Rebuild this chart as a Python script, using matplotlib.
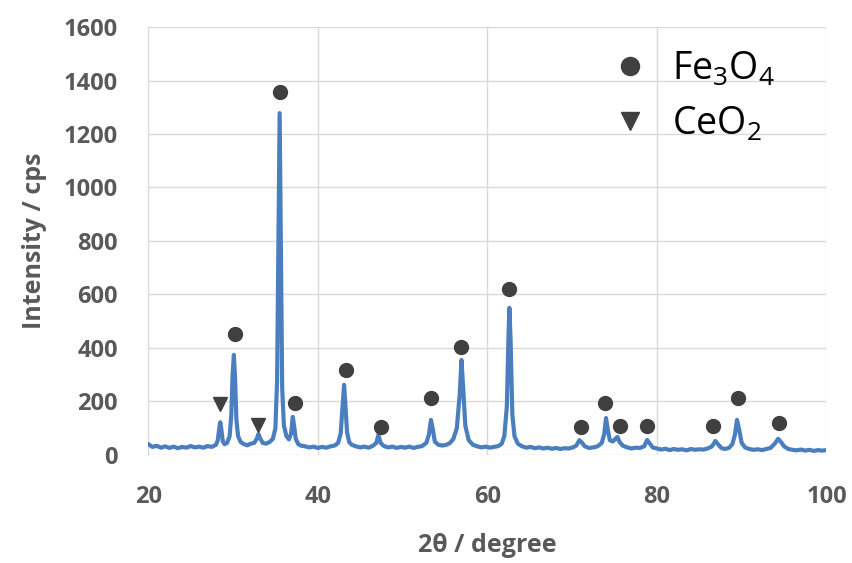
import matplotlib.pyplot as plt
from matplotlib.lines import Line2D

# XRD pattern (2theta, intensity in cps)
two_theta = [
    20.0, 20.5, 21.0, 21.5, 22.0, 22.5, 23.0, 23.5, 24.0, 24.5, 25.0, 25.5, 26.0, 26.5, 27.0, 27.5,
    28.0, 28.2, 28.4, 28.5, 28.6, 28.8, 29.0, 29.3, 29.6, 29.8, 29.95, 30.1, 30.25, 30.4, 30.6, 30.9,
    31.3, 31.7, 32.1, 32.5, 32.8, 33.0, 33.2, 33.5, 33.9, 34.3, 34.7, 35.0, 35.2, 35.35, 35.5, 35.65,
    35.8, 36.0, 36.3, 36.6, 36.85, 37.05, 37.2, 37.4, 37.7, 38.0, 38.5, 39.0, 39.5, 40.0, 40.5, 41.0,
    41.5, 42.0, 42.4, 42.7, 42.9, 43.1, 43.25, 43.45, 43.7, 44.0, 44.5, 45.0, 45.5, 46.0, 46.5, 46.9,
    47.15, 47.4, 47.8, 48.3, 48.8, 49.3, 49.8, 50.3, 50.8, 51.3, 51.8, 52.3, 52.8, 53.1, 53.35, 53.55,
    53.8, 54.2, 54.7, 55.2, 55.6, 56.0, 56.4, 56.75, 56.95, 57.15, 57.4, 57.8, 58.3, 58.8, 59.3, 59.8,
    60.3, 60.8, 61.3, 61.7, 62.0, 62.3, 62.5, 62.6, 62.75, 62.95, 63.2, 63.6, 64.1, 64.6, 65.1, 65.6,
    66.1, 66.6, 67.1, 67.6, 68.1, 68.6, 69.1, 69.6, 70.1, 70.5, 70.85, 71.1, 71.5, 72.0, 72.5, 73.0,
    73.5, 73.8, 74.0, 74.2, 74.45, 74.8, 75.1, 75.35, 75.6, 76.0, 76.5, 77.0, 77.5, 78.0, 78.5, 78.85,
    79.1, 79.5, 80.0, 80.5, 81.0, 81.5, 82.0, 82.5, 83.0, 83.5, 84.0, 84.5, 85.0, 85.5, 86.0, 86.5,
    86.9, 87.2, 87.6, 88.0, 88.5, 88.9, 89.2, 89.45, 89.7, 90.0, 90.4, 90.9, 91.4, 91.9, 92.4, 92.9,
    93.4, 93.9, 94.3, 94.6, 95.0, 95.5, 96.0, 96.5, 97.0, 97.5, 98.0, 98.5, 99.0, 99.5, 100.0,
]
intensity = [
    40, 30, 34, 27, 32, 26, 31, 25, 30, 27, 33, 28, 31, 27, 33, 30,
    38, 55, 105, 122, 100, 50, 40, 45, 70, 150, 300, 374, 280, 130, 70, 48,
    40, 36, 42, 45, 60, 78, 62, 45, 42, 48, 60, 100, 280, 800, 1278, 750,
    250, 110, 70, 58, 80, 142, 110, 60, 40, 35, 32, 28, 31, 26, 30, 27,
    32, 35, 45, 80, 170, 262, 190, 85, 48, 38, 32, 28, 31, 27, 34, 45,
    75, 45, 33, 28, 31, 26, 30, 27, 31, 26, 30, 33, 45, 75, 131, 100,
    50, 38, 35, 38, 45, 60, 100, 230, 355, 250, 110, 55, 38, 32, 28, 31,
    27, 30, 33, 42, 70, 180, 450, 550, 420, 150, 70, 42, 32, 27, 30, 25,
    28, 24, 27, 23, 26, 22, 25, 24, 28, 35, 55, 48, 32, 26, 28, 32,
    45, 80, 138, 95, 55, 50, 60, 67, 48, 34, 28, 24, 27, 26, 32, 56,
    45, 28, 24, 20, 23, 18, 22, 19, 21, 17, 22, 19, 21, 20, 24, 32,
    52, 40, 26, 22, 26, 40, 75, 131, 95, 45, 28, 22, 19, 21, 18, 22,
    26, 42, 60, 50, 32, 22, 19, 17, 20, 16, 19, 15, 18, 16, 18,
]

# phase markers
fe3o4_x = [30.2, 35.5, 37.3, 43.3, 47.4, 53.3, 56.9, 62.6, 71.1, 73.9, 75.7, 78.8, 86.6, 89.6, 94.4]
fe3o4_y = [452, 1357, 194, 318, 105, 213, 404, 620, 105, 194, 108, 108, 108, 213, 118]
ceo2_x = [28.5, 33.0]
ceo2_y = [191, 110]

fonts = ['Open Sans', 'DejaVu Sans']
plt.rcParams['font.family'] = fonts
grey = '#595959'

fig = plt.figure(figsize=(8.52, 5.63), dpi=100)
ax = fig.add_axes([0.174, 0.192, 0.796, 0.76])

ax.plot(two_theta, intensity, color='#4a7ebf', lw=3.0, solid_joinstyle='round', zorder=3)
ax.plot(fe3o4_x, fe3o4_y, 'o', color='#404040', ms=10, zorder=4)
ax.plot(ceo2_x, ceo2_y, 'v', color='#404040', ms=10, zorder=4)

ax.set_xlim(20, 100)
ax.set_ylim(0, 1600)
ax.set_xticks([20, 40, 60, 80, 100])
ax.set_yticks(range(0, 1601, 200))
ax.grid(True, color='#d9d9d9', lw=1)
ax.set_axisbelow(True)
for s in ['top', 'right', 'bottom']:
    ax.spines[s].set_visible(False)
ax.spines['left'].set_color('#d9d9d9')
ax.tick_params(axis='y', length=0, labelsize=17, labelcolor=grey, pad=22)
ax.tick_params(axis='x', length=0, labelsize=17, labelcolor=grey, pad=22)
for lab in ax.get_xticklabels() + ax.get_yticklabels():
    lab.set_fontweight('bold')

ax.set_xlabel('2θ / degree', fontsize=18, fontweight='bold', color=grey, labelpad=17)
ax.set_ylabel('Intensity / cps', fontsize=18, fontweight='bold', color=grey, labelpad=12)

handles = [
    Line2D([], [], ls='none', marker='o', color='#404040', ms=13),
    Line2D([], [], ls='none', marker='v', color='#404040', ms=13),
]
ax.legend(handles, [r'$\mathregular{Fe_3O_4}$', r'$\mathregular{CeO_2}$'],
          loc='upper left', bbox_to_anchor=(0.628, 1.025), frameon=False,
          prop={'size': 27}, handletextpad=0.5, labelspacing=0.45, handlelength=1.2)

fig.savefig('out.png', dpi=100)
